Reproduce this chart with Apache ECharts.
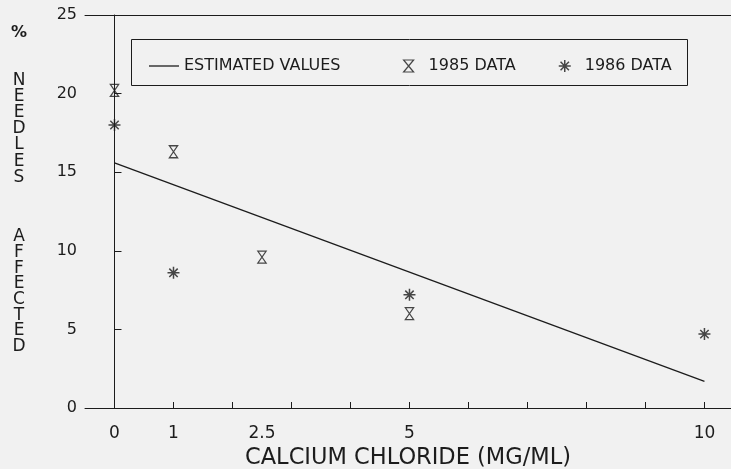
<!DOCTYPE html>
<html>
<head>
<meta charset="utf-8">
<script src="https://cdn.jsdelivr.net/npm/echarts@6/dist/echarts.min.js"></script>
<style>
html,body{margin:0;padding:0;background:#f1f1f1;}
#chart{width:731px;height:469px;}
</style>
</head>
<body>
<div id="chart"></div>
<script>
// ---- data ----
var estX = [0, 10];
var estY = [15.6, 1.7];
var data1985X = [0, 1, 2.5, 5];
var data1985Y = [20.2, 16.3, 9.6, 6.0];
var data1986X = [0, 1, 5, 10];
var data1986Y = [18.0, 8.6, 7.2, 4.7];
var xTickValues = [0, 1, 2, 3, 4, 5, 6, 7, 8, 9, 10];
var xTickLabels = [0, 1, 2.5, 5, 10];
var yTickValues = [0, 5, 10, 15, 20, 25];
var seriesNames = ['ESTIMATED VALUES', '1985 DATA', '1986 DATA'];
var xTitle = 'CALCIUM CHLORIDE (MG/ML)';
var yTitleParts = ['%', 'N\nE\nE\nD\nL\nE\nS', 'A\nF\nF\nE\nC\nT\nE\nD'];

function pairs(xs, ys) { return xs.map(function (x, i) { return [x, ys[i]]; }); }

var ink = '#1c1c1c';
var FONT = 'DejaVu Sans';
var hourglass = 'path://M0,0 L10,0 L0,12 L10,12 Z';
var asterisk = 'path://M6,0 L6,12 M0,6 L12,6 M1.8,1.8 L10.2,10.2 M10.2,1.8 L1.8,10.2';
var openStyle = {color: 'rgba(0,0,0,0)', borderColor: ink, borderWidth: 1.2};
var starStyle = {color: 'rgba(0,0,0,0)', borderColor: ink, borderWidth: 1.5};
var legendText = {fontFamily: FONT, fontSize: 16, color: ink};

var chart = echarts.init(document.getElementById('chart'), null, {renderer: 'canvas'});
var option = {
  backgroundColor: '#f1f1f1',
  animation: false,
  grid: {left: 85, right: 0, top: 15, bottom: 61, containLabel: false, outerBoundsMode: 'none'},
  xAxis: [{
    type: 'value', min: -0.5, max: 10.45, position: 'bottom',
    name: xTitle, nameLocation: 'middle', nameGap: 34,
    nameTextStyle: {fontFamily: FONT, fontSize: 22.5, color: ink},
    axisLine: {show: true, lineStyle: {color: ink, width: 1}},
    axisTick: {show: true, inside: true, length: 6, customValues: xTickValues, lineStyle: {color: ink}},
    axisLabel: {show: true, margin: 17, customValues: xTickLabels, fontFamily: FONT, fontSize: 17, color: ink},
    splitLine: {show: false}
  }, {
    type: 'value', min: -0.5, max: 10.45, position: 'top',
    axisLine: {show: true, onZero: false, lineStyle: {color: ink, width: 1}},
    axisTick: {show: false}, axisLabel: {show: false}, splitLine: {show: false}
  }],
  yAxis: {
    type: 'value', min: 0, max: 25, interval: 5,
    axisLine: {show: true, lineStyle: {color: ink, width: 1}},
    axisTick: {show: true, inside: true, length: 7, customValues: yTickValues, lineStyle: {color: ink}},
    axisLabel: {margin: 8, customValues: yTickValues, fontFamily: FONT, fontSize: 16, color: ink},
    splitLine: {show: false}
  },
  legend: [{
    data: [seriesNames[0]], left: 149, top: 58, padding: 0, itemWidth: 30, itemHeight: 1.3,
    icon: 'rect', itemStyle: {color: ink, borderWidth: 0},
    textStyle: legendText, selectedMode: false
  }, {
    data: [seriesNames[1]], left: 403, top: 58, padding: 0, itemWidth: 30, itemHeight: 12,
    itemStyle: openStyle, textStyle: legendText, selectedMode: false
  }, {
    data: [seriesNames[2]], left: 558, top: 58, padding: 0, itemWidth: 30, itemHeight: 12,
    itemStyle: starStyle, textStyle: legendText, selectedMode: false
  }],
  graphic: [
    {type: 'rect', shape: {x: 131.5, y: 39.5, width: 556, height: 46},
     style: {fill: 'none', stroke: ink, lineWidth: 1}},
    {type: 'text', x: 19, y: 25, style: {text: yTitleParts[0], fontFamily: FONT, fontSize: 16, fontWeight: 'bold', fill: ink, textAlign: 'center', textVerticalAlign: 'top'}},
    {type: 'text', x: 19, y: 72, style: {text: yTitleParts[1], fontFamily: FONT, fontSize: 17, lineHeight: 16.2, fill: ink, textAlign: 'center', textVerticalAlign: 'top'}},
    {type: 'text', x: 19, y: 229, style: {text: yTitleParts[2], fontFamily: FONT, fontSize: 17, lineHeight: 15.7, fill: ink, textAlign: 'center', textVerticalAlign: 'top'}}
  ],
  series: [{
    name: seriesNames[0], type: 'line', data: pairs(estX, estY), symbol: 'none',
    lineStyle: {color: ink, width: 1.3}, itemStyle: {color: ink}
  }, {
    name: seriesNames[1], type: 'scatter', data: pairs(data1985X, data1985Y),
    symbol: hourglass, symbolSize: [10, 12], symbolKeepAspect: true,
    itemStyle: openStyle
  }, {
    name: seriesNames[2], type: 'scatter', data: pairs(data1986X, data1986Y),
    symbol: asterisk, symbolSize: [12, 12], symbolKeepAspect: true,
    itemStyle: starStyle
  }]
};
chart.setOption(option);
</script>
</body>
</html>
